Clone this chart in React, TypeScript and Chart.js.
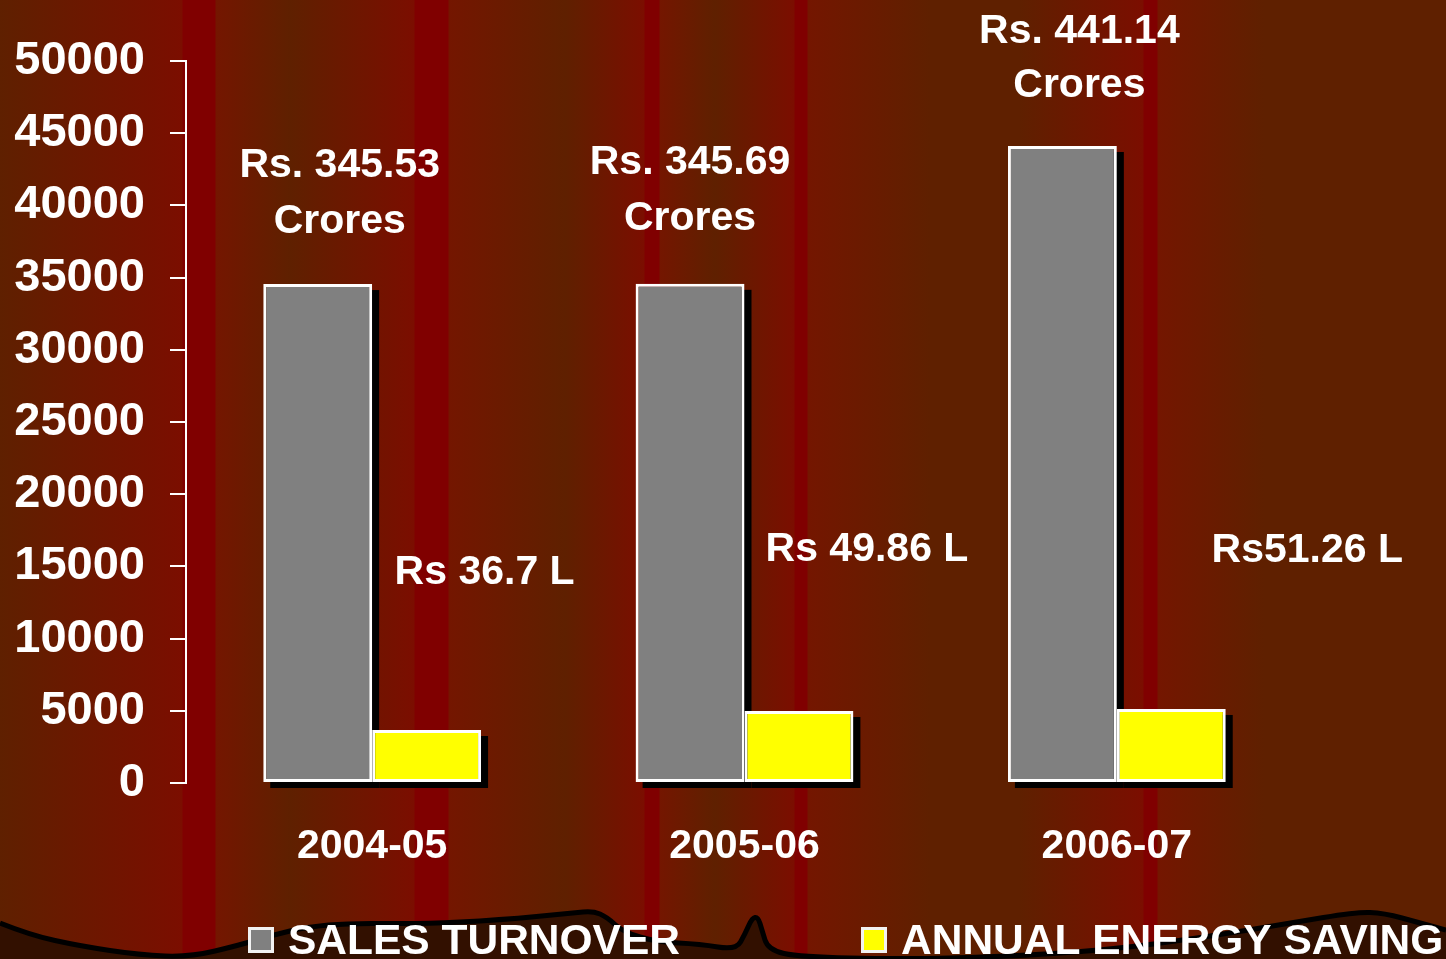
import React, { useEffect, useRef } from 'react';
import { Chart, registerables } from 'chart.js';

Chart.register(...registerables);

// ---------- data ----------
const categories = ['2004-05', '2005-06', '2006-07'];
const seriesNames = ['SALES TURNOVER', 'ANNUAL ENERGY SAVING'];
const salesTurnover = [34553, 34569, 44114];
const energySaving = [3670, 4986, 5126];
const salesLabels = [
  ['Rs. 345.53', 'Crores'],
  ['Rs. 345.69', 'Crores'],
  ['Rs. 441.14', 'Crores'],
];
const savingLabels = ['Rs 36.7 L', 'Rs 49.86 L', 'Rs51.26 L'];
const yMin = 0;
const yMax = 50000;
const yStep = 5000;

// ---------- styling ----------
const FONT = "'Liberation Sans', Arial, Helvetica, sans-serif";
const W = 1446;
const H = 959;
const BROWN = '#5f2000';
const RED = '#800000';
const R1 = '#7b0e00';
const R2 = '#741600';
const BG_STOPS: [number, string][] = [
  [0, BROWN], [182, R1], [183, RED], [215, RED], [216, R2], [290, BROWN],
  [414, R1], [415, RED], [448, RED], [449, R2], [565, BROWN],
  [644, R1], [645, RED], [659, RED], [660, R2], [715, BROWN],
  [794, R1], [795, RED], [807, RED], [808, R2], [930, BROWN],
  [1020, BROWN], [1143, R1], [1144, RED], [1157, RED], [1158, R2], [1264, BROWN],
  [1446, BROWN],
];
const WAVE: [number, number][] = [
  [0, 923], [30, 935], [80, 946], [140, 955], [190, 957], [240, 945], [273, 935],
  [307, 927], [350, 923], [420, 924], [500, 920], [573, 913], [593, 911], [607, 917],
  [623, 932], [657, 942], [700, 944], [736, 950], [745, 934], [752, 918], [758, 917],
  [762, 930], [768, 950], [800, 957], [900, 959], [1000, 957], [1107, 950], [1200, 938],
  [1291, 923], [1356, 912], [1384, 913], [1420, 923], [1446, 930],
];
const SALES_DX = [22, 0, 17];
const SALES_DY = [[-107, -51], [-110, -54], [-103, -49]];
const SAVE_DX = [58, 68, 136];
const SAVE_DY = [-146, -150, -147];
const SH_DX = 7;
const SH_DY = 6;
const LEGEND_X = [248, 861];

const bgPlugin = {
  id: 'bgPlugin',
  beforeDraw(chart: any) {
    const ctx = chart.ctx as CanvasRenderingContext2D;
    const w = chart.width;
    const h = chart.height;
    ctx.save();
    const g = ctx.createLinearGradient(0, 0, w, 0);
    BG_STOPS.forEach(([x, c]) => g.addColorStop(Math.min(1, x / w), c));
    ctx.fillStyle = g;
    ctx.fillRect(0, 0, w, h);

    const path = () => {
      ctx.beginPath();
      ctx.moveTo(WAVE[0][0], WAVE[0][1]);
      for (let i = 1; i < WAVE.length - 1; i++) {
        const mx = (WAVE[i][0] + WAVE[i + 1][0]) / 2;
        const my = (WAVE[i][1] + WAVE[i + 1][1]) / 2;
        ctx.quadraticCurveTo(WAVE[i][0], WAVE[i][1], mx, my);
      }
      const last = WAVE[WAVE.length - 1];
      ctx.lineTo(last[0], last[1]);
    };
    path();
    ctx.lineTo(w + 10, h + 10);
    ctx.lineTo(-10, h + 10);
    ctx.closePath();
    ctx.fillStyle = '#321000';
    ctx.fill();
    path();
    ctx.strokeStyle = '#000';
    ctx.lineWidth = 5;
    ctx.lineJoin = 'round';
    ctx.stroke();
    ctx.restore();
  },
};

const shadowPlugin = {
  id: 'shadowPlugin',
  beforeDatasetsDraw(chart: any) {
    const ctx = chart.ctx as CanvasRenderingContext2D;
    ctx.save();
    ctx.fillStyle = '#000';
    chart.data.datasets.forEach((_: any, i: number) => {
      const meta = chart.getDatasetMeta(i);
      meta.data.forEach((el: any) => {
        const { x, y, base, width } = el.getProps(['x', 'y', 'base', 'width'], true);
        ctx.fillRect(x - width / 2 + SH_DX, y + SH_DY, width, base - y);
      });
    });
    ctx.restore();
  },
};

const labelPlugin = {
  id: 'labelPlugin',
  afterDatasetsDraw(chart: any) {
    const ctx = chart.ctx as CanvasRenderingContext2D;
    ctx.save();
    ctx.fillStyle = '#ffffff';
    ctx.font = `bold 41px ${FONT}`;
    ctx.textAlign = 'center';
    ctx.textBaseline = 'alphabetic';
    const m0 = chart.getDatasetMeta(0);
    const m1 = chart.getDatasetMeta(1);
    m0.data.forEach((el: any, i: number) => {
      salesLabels[i].forEach((t, j) => {
        ctx.fillText(t, el.x + SALES_DX[i], el.y + SALES_DY[i][j]);
      });
    });
    m1.data.forEach((el: any, i: number) => {
      ctx.fillText(savingLabels[i], el.x + SAVE_DX[i], el.y + SAVE_DY[i]);
    });
    ctx.restore();
  },
};

const legendPlugin = {
  id: 'legendPlugin',
  afterDraw(chart: any) {
    const ctx = chart.ctx as CanvasRenderingContext2D;
    ctx.save();
    ctx.font = `bold 42.5px ${FONT}`;
    ctx.textAlign = 'left';
    ctx.textBaseline = 'alphabetic';
    LEGEND_X.forEach((lx, i) => {
      const ds = chart.data.datasets[i];
      ctx.fillStyle = '#f2f2f2';
      ctx.fillRect(lx, 927, 26, 26);
      ctx.fillStyle = ds.backgroundColor;
      ctx.fillRect(lx + 3, 930, 20, 20);
      ctx.fillStyle = '#ffffff';
      ctx.fillText(ds.label, lx + 40, 954);
    });
    ctx.restore();
  },
};

export default function App() {
  const ref = useRef<HTMLCanvasElement | null>(null);

  useEffect(() => {
    if (!ref.current) return;
    const chart = new Chart(ref.current, {
      type: 'bar',
      data: {
        labels: categories,
        datasets: [
          {
            label: seriesNames[0],
            data: salesTurnover,
            backgroundColor: '#808080',
            borderColor: '#ffffff',
            borderWidth: 3,
            borderSkipped: false,
            categoryPercentage: 0.585,
            barPercentage: 1,
            clip: false as any,
          },
          {
            label: seriesNames[1],
            data: energySaving,
            backgroundColor: '#ffff00',
            borderColor: '#ffffff',
            borderWidth: 3,
            borderSkipped: false,
            categoryPercentage: 0.585,
            barPercentage: 1,
            clip: false as any,
          },
        ],
      },
      options: {
        responsive: false,
        animation: false,
        devicePixelRatio: 1,
        layout: { padding: { top: 61, right: 143, left: 0, bottom: 0 } },
        plugins: {
          legend: { display: false },
          tooltip: { enabled: false },
          title: { display: false },
        },
        scales: {
          x: {
            offset: true,
            grid: { display: false, drawTicks: false },
            border: { display: false },
            ticks: {
              color: '#ffffff',
              font: { family: FONT, size: 41, weight: 'bold' },
              padding: 39,
              maxRotation: 0,
            },
            afterFit: (scale: any) => {
              scale.height = 176;
            },
          },
          y: {
            min: yMin,
            max: yMax,
            grid: {
              display: true,
              drawOnChartArea: false,
              drawTicks: true,
              tickLength: 16,
              color: '#ffffff',
              lineWidth: 2,
            },
            border: { display: true, color: '#ffffff', width: 2 },
            ticks: {
              stepSize: yStep,
              color: '#ffffff',
              font: { family: FONT, size: 47, weight: 'bold' },
              padding: 25,
              callback: (v: any) => String(v),
            },
            afterFit: (scale: any) => {
              scale.width = 186;
            },
          },
        },
      },
      plugins: [bgPlugin, shadowPlugin, labelPlugin, legendPlugin],
    });
    return () => chart.destroy();
  }, []);

  return (
    <div style={{ position: 'fixed', left: 0, top: 0, width: W, height: H }}>
      <canvas ref={ref} width={W} height={H} style={{ display: 'block' }} />
    </div>
  );
}
